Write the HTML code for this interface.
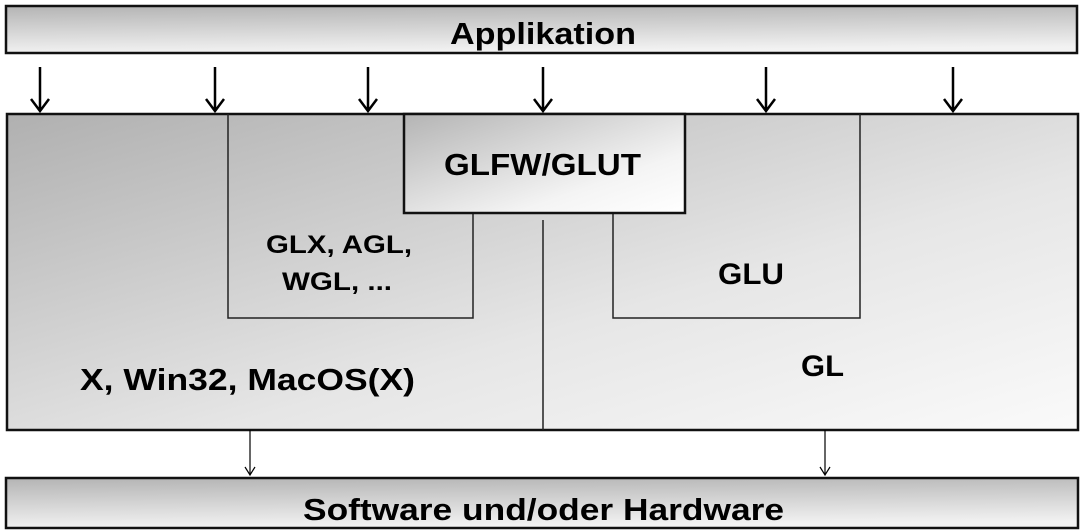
<!DOCTYPE html>
<html><head><style>html,body{margin:0;padding:0;background:#fff}svg{display:block}</style></head>
<body>
<svg width="1083" height="532" viewBox="0 0 1083 532" xmlns="http://www.w3.org/2000/svg" font-family="Liberation Sans, sans-serif" font-weight="bold">
<defs>
<linearGradient id="bar" x1="0" y1="0" x2="0.15" y2="1"><stop offset="0" stop-color="#b4b4b4"/><stop offset="1" stop-color="#f2f2f2"/></linearGradient>
<linearGradient id="main" x1="0" y1="0" x2="1" y2="1"><stop offset="0" stop-color="#b0b0b0"/><stop offset="0.6" stop-color="#e6e6e6"/><stop offset="1" stop-color="#fafafa"/></linearGradient>
<linearGradient id="glfw" x1="0" y1="0" x2="1" y2="1"><stop offset="0" stop-color="#b4b4b4"/><stop offset="0.7" stop-color="#f4f4f4"/><stop offset="1" stop-color="#fff"/></linearGradient>
<clipPath id="bc"><rect x="6" y="478" width="1072" height="50"/></clipPath>
</defs>
<rect x="6" y="6" width="1071" height="47" fill="url(#bar)" stroke="#111" stroke-width="2.5"/>
<text x="450" y="44" font-size="31" textLength="186" lengthAdjust="spacingAndGlyphs">Applikation</text>
<g stroke="#000" stroke-width="2.5" fill="none">
<path d="M40 67V111M31 99L40 111L49 99"/><path d="M215 67V111M206 99L215 111L224 99"/><path d="M368 67V111M359 99L368 111L377 99"/><path d="M543 67V111M534 99L543 111L552 99"/><path d="M766 67V111M757 99L766 111L775 99"/><path d="M953 67V111M944 99L953 111L962 99"/>
</g>
<rect x="7" y="114" width="1071" height="316" fill="url(#main)" stroke="#111" stroke-width="2.5"/>
<g stroke="#222" stroke-width="1.5" fill="none">
<path d="M228 114V318H473V213"/>
<path d="M613 213V318H860V114"/>
<path d="M543 220V430"/>
</g>
<rect x="404" y="114" width="281" height="99" fill="url(#glfw)" stroke="#111" stroke-width="2.5"/>
<text x="444" y="175" font-size="31" textLength="197" lengthAdjust="spacingAndGlyphs">GLFW/GLUT</text>
<text x="266" y="253" font-size="25" textLength="146" lengthAdjust="spacingAndGlyphs">GLX, AGL,</text>
<text x="282" y="290" font-size="25" textLength="110" lengthAdjust="spacingAndGlyphs">WGL, ...</text>
<text x="718" y="284" font-size="30" textLength="66" lengthAdjust="spacingAndGlyphs">GLU</text>
<text x="801" y="376" font-size="30" textLength="43" lengthAdjust="spacingAndGlyphs">GL</text>
<text x="80" y="390" font-size="31" textLength="335" lengthAdjust="spacingAndGlyphs">X, Win32, MacOS(X)</text>
<g stroke="#000" stroke-width="1.2" fill="none">
<path d="M250 430V475M245 467L250 475L255 467"/><path d="M825 430V475M820 467L825 475L830 467"/>
</g>
<rect x="6" y="478" width="1072" height="50" fill="url(#bar)" stroke="#111" stroke-width="2.5"/>
<text x="303" y="520" font-size="31" textLength="481" lengthAdjust="spacingAndGlyphs" clip-path="url(#bc)">Software und/oder Hardware</text>
</svg>
</body></html>
